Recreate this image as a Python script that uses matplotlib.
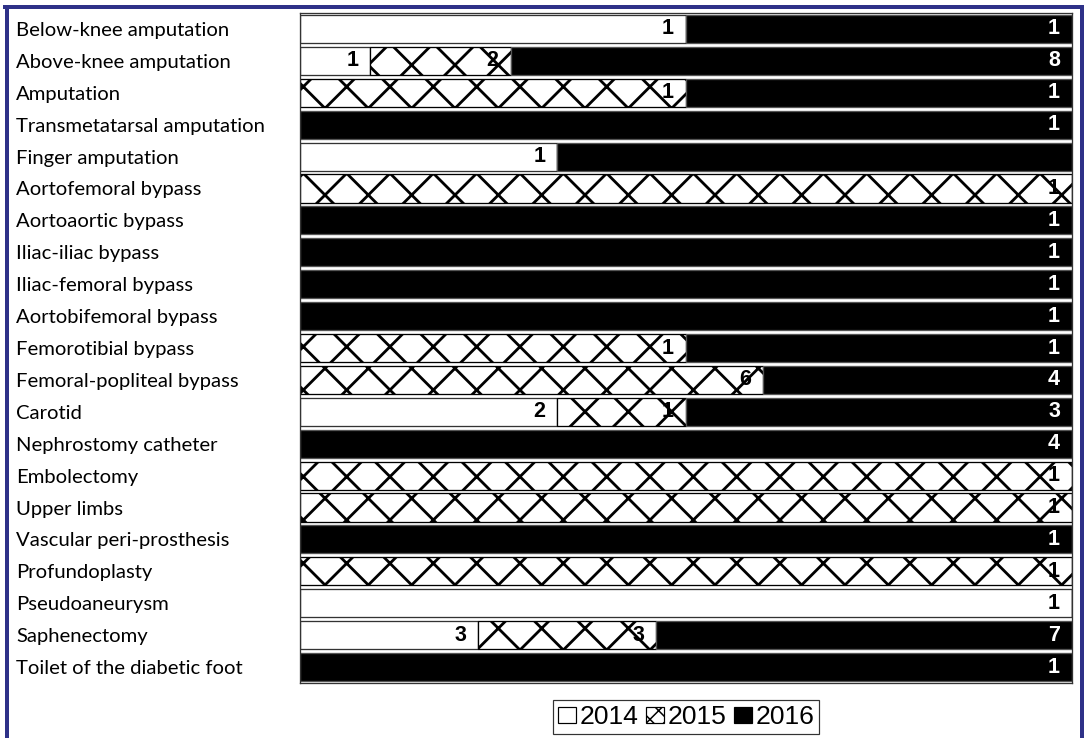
import numpy as np
import matplotlib
matplotlib.use("Agg")
import matplotlib.pyplot as plt
from matplotlib.patches import Patch
from matplotlib.lines import Line2D

# procedures and yearly counts (2014 / 2015 / 2016)
categories = [
    "Below-knee amputation", "Above-knee amputation", "Amputation",
    "Transmetatarsal amputation", "Finger amputation", "Aortofemoral bypass",
    "Aortoaortic bypass", "Iliac-iliac bypass", "Iliac-femoral bypass",
    "Aortobifemoral bypass", "Femorotibial bypass", "Femoral-popliteal bypass",
    "Carotid", "Nephrostomy catheter", "Embolectomy", "Upper limbs",
    "Vascular peri-prosthesis", "Profundoplasty", "Pseudoaneurysm",
    "Saphenectomy", "Toilet of the diabetic foot",
]
counts_2014 = [1, 1, 0, 0, 1, 0, 0, 0, 0, 0, 0, 0, 2, 0, 0, 0, 0, 0, 1, 3, 0]
counts_2015 = [0, 2, 1, 0, 0, 1, 0, 0, 0, 0, 1, 6, 1, 0, 1, 1, 0, 1, 0, 3, 0]
counts_2016 = [1, 8, 1, 1, 2, 0, 1, 1, 1, 1, 1, 4, 3, 4, 0, 0, 1, 0, 0, 7, 1]
years = ["2014", "2015", "2016"]
# the finger amputation 2016 segment carries no value label in the source
hidden_labels = {(4, 2)}

# pixel based sizing; high dpi keeps the hatch pattern coarse
DPI = 260
W, H = 1084, 738


def px(v):
    return v * 72.0 / DPI


plt.rcParams["hatch.linewidth"] = px(2.8)

fig = plt.figure(figsize=(W / DPI, H / DPI), dpi=DPI)
ax = fig.add_axes([300 / W, 1 - 683 / H, 772 / W, 670 / H])

data = np.array([counts_2014, counts_2015, counts_2016], dtype=float)
shares = data / data.sum(axis=0)
n = len(categories)
y = np.arange(n)

styles = [
    dict(color="white", edgecolor="#333333", hatch=None),
    dict(color="white", edgecolor="black", hatch="xx"),
    dict(color="black", edgecolor="#555555", hatch=None),
]

left = np.zeros(n)
for k in range(3):
    st = styles[k]
    ax.barh(y, shares[k], left=left, height=0.88, color=st["color"],
            edgecolor=st["edgecolor"], hatch=st["hatch"], linewidth=px(1.3))
    for i in range(n):
        if data[k, i] == 0 or (i, k) in hidden_labels:
            continue
        ax.annotate(f"{int(data[k, i])}", xy=(left[i] + shares[k, i], y[i]),
                    xytext=(-px(12), 0), textcoords="offset points",
                    ha="right", va="center", fontsize=px(21.5), fontweight="bold",
                    family="Liberation Sans",
                    color="white" if k == 2 else "black")
    left += shares[k]

ax.set_xlim(0, 1)
ax.set_ylim(n - 0.5, -0.5)
ax.set_xticks([])
ax.set_yticks(y)
ax.set_yticklabels(categories, family="Lato", fontsize=px(20.3))
for lab in ax.get_yticklabels():
    lab.set_horizontalalignment("left")
ax.tick_params(axis="y", length=0, pad=px(284))
for sp in ax.spines.values():
    sp.set_color("#333333")
    sp.set_linewidth(px(1.3))

plt.rcParams["hatch.linewidth"] = px(1.5)
handles = [
    Patch(facecolor="white", edgecolor="black", linewidth=px(1.2)),
    Patch(facecolor="white", edgecolor="black", hatch="xxxxx", linewidth=px(1.2)),
    Patch(facecolor="black", edgecolor="black", linewidth=px(1.2)),
]
leg = ax.legend(handles, years, loc="center", bbox_to_anchor=(0.5, -0.051),
                ncol=3, frameon=True, fancybox=False, edgecolor="black",
                prop=dict(family="Liberation Sans", size=px(26.5)),
                handlelength=0.68, handleheight=0.55, handletextpad=0.12,
                columnspacing=0.3, borderpad=0.2, borderaxespad=0)
leg.get_frame().set_linewidth(px(1.2))

# navy frame around the figure (left, top, right)
border = "#2e3188"
fig.add_artist(Line2D([7 / W, 7 / W], [0, 1 - 7 / H], color=border,
                      linewidth=px(4), transform=fig.transFigure))
fig.add_artist(Line2D([5 / W, 1082 / W], [1 - 7 / H, 1 - 7 / H], color=border,
                      linewidth=px(4), transform=fig.transFigure))
fig.add_artist(Line2D([1082 / W, 1082 / W], [0, 1 - 7 / H], color=border,
                      linewidth=px(4), transform=fig.transFigure))

fig.savefig("out.png", dpi=DPI)
plt.close(fig)
